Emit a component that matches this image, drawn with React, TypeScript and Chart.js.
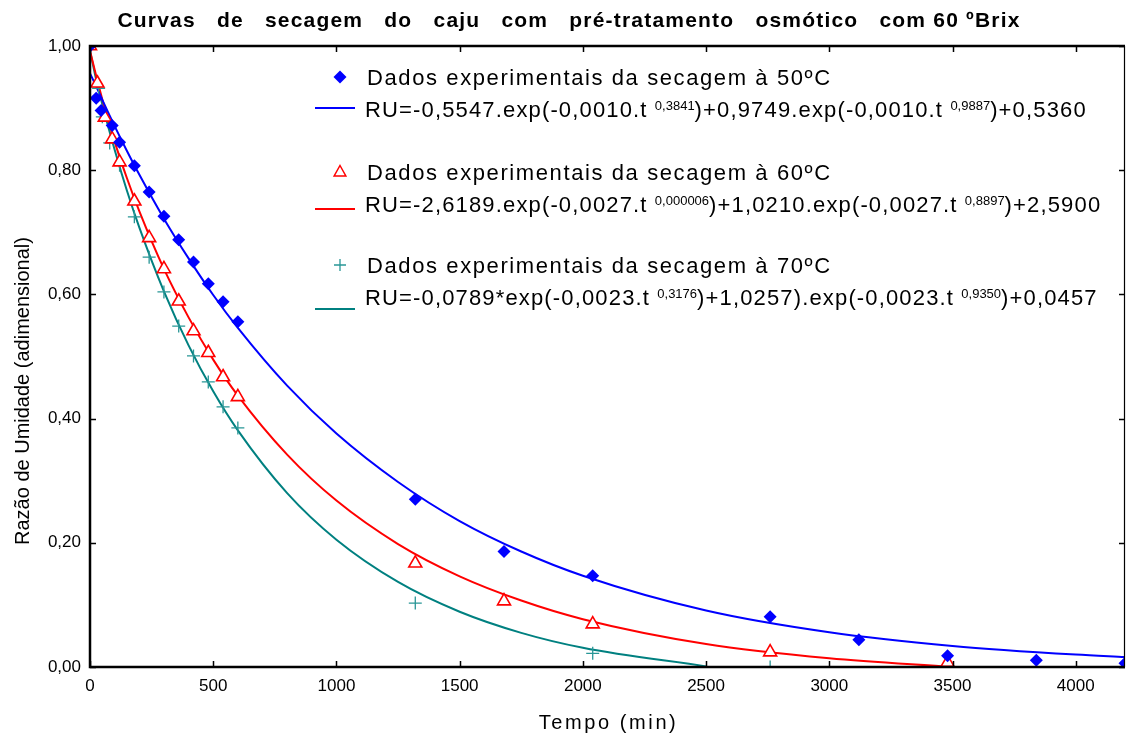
import React, { useEffect, useRef } from 'react';
import { Chart, registerables } from 'chart.js';

Chart.register(...registerables);

// ---------- data ----------
const xTickValues = [0, 500, 1000, 1500, 2000, 2500, 3000, 3500, 4000];
const yTickValues = [0, 0.2, 0.4, 0.6, 0.8, 1.0];

// experimental points
const t50 = [0, 25, 45, 90, 120, 180, 240, 300, 360, 420, 480, 540, 600, 1320, 1680, 2040, 2760, 3120, 3480, 3840, 4200];
const ru50 = [1.0, 0.916, 0.896, 0.872, 0.845, 0.807, 0.765, 0.726, 0.688, 0.652, 0.617, 0.588, 0.556, 0.270, 0.186, 0.147, 0.081, 0.044, 0.018, 0.011, 0.006];
const t60 = [0, 30, 60, 90, 120, 180, 240, 300, 360, 420, 480, 540, 600, 1320, 1680, 2040, 2760, 3480];
const ru60 = [1.0, 0.94, 0.885, 0.85, 0.813, 0.75, 0.691, 0.641, 0.589, 0.541, 0.506, 0.467, 0.435, 0.167, 0.106, 0.069, 0.024, 0.007];
const t70 = [0, 35, 50, 80, 120, 180, 240, 300, 360, 420, 480, 540, 600, 1320, 2040, 2760];
const ru70 = [1.0, 0.932, 0.886, 0.844, 0.808, 0.725, 0.66, 0.604, 0.549, 0.501, 0.459, 0.419, 0.385, 0.103, 0.022, 0.0];

// fitted curves
const fit50T = [0, 25, 50, 100, 150, 200, 300, 400, 500, 600, 800, 1000, 1250, 1500, 1750, 2000, 2500, 3000, 3500, 4000, 4200];
const fit50 = [0.956, 0.935, 0.913, 0.871, 0.831, 0.793, 0.722, 0.658, 0.599, 0.546, 0.453, 0.376, 0.298, 0.235, 0.186, 0.147, 0.091, 0.056, 0.034, 0.020, 0.016];
const fit60T = [0, 25, 50, 100, 150, 200, 300, 400, 500, 600, 800, 1000, 1250, 1500, 1750, 2000, 2500, 3000, 3500];
const fit60 = [0.992, 0.952, 0.914, 0.846, 0.787, 0.734, 0.641, 0.563, 0.495, 0.437, 0.342, 0.268, 0.198, 0.146, 0.107, 0.077, 0.037, 0.014, 0.0];
const fit70T = [0, 25, 50, 100, 150, 200, 300, 400, 500, 600, 800, 1000, 1250, 1500, 1750, 2000, 2500];
const fit70 = [0.993, 0.946, 0.906, 0.833, 0.767, 0.708, 0.605, 0.518, 0.444, 0.381, 0.280, 0.205, 0.137, 0.089, 0.055, 0.031, 0.001];

const BLUE = 'rgb(0,0,255)';
const RED = 'rgb(255,0,0)';
const TEAL = 'rgb(0,128,128)';
const TEAL_PT = 'rgb(40,150,150)';

const titleText = 'Curvas   de   secagem   do   caju   com   pré-tratamento   osmótico   com 60 ºBrix';
const xTitle = 'Tempo (min)';
const yTitle = 'Razão de Umidade (adimensional)';
const legendLabels = [
  'Dados experimentais da secagem à 50ºC',
  'Dados experimentais da secagem à 60ºC',
  'Dados experimentais da secagem à 70ºC',
];
const eqParts: [string, string, string, string, string][] = [
  ['RU=-0,5547.exp(-0,0010.t ', '0,3841', ')+0,9749.exp(-0,0010.t ', '0,9887', ')+0,5360'],
  ['RU=-2,6189.exp(-0,0027.t ', '0,000006', ')+1,0210.exp(-0,0027.t ', '0,8897', ')+2,5900'],
  ['RU=-0,0789*exp(-0,0023.t ', '0,3176', ')+1,0257).exp(-0,0023.t ', '0,9350', ')+0,0457'],
];

const FONT = '"Liberation Sans", Arial, Helvetica, sans-serif';

const toXY = (ts: number[], vs: number[]) => ts.map((t, i) => ({ x: t, y: vs[i] }));

function drawMarker(ctx: CanvasRenderingContext2D, kind: number, x: number, y: number) {
  ctx.save();
  if (kind === 0) {
    const r = 6.5;
    ctx.fillStyle = BLUE;
    ctx.beginPath();
    ctx.moveTo(x, y - r);
    ctx.lineTo(x + r, y);
    ctx.lineTo(x, y + r);
    ctx.lineTo(x - r, y);
    ctx.closePath();
    ctx.fill();
  } else if (kind === 1) {
    const r = 6.5;
    ctx.strokeStyle = RED;
    ctx.lineWidth = 1.5;
    ctx.beginPath();
    ctx.moveTo(x, y - r);
    ctx.lineTo(x + r * 0.9, y + r * 0.6);
    ctx.lineTo(x - r * 0.9, y + r * 0.6);
    ctx.closePath();
    ctx.stroke();
  } else {
    const r = 6;
    ctx.strokeStyle = TEAL_PT;
    ctx.lineWidth = 1.3;
    ctx.beginPath();
    ctx.moveTo(x - r, y);
    ctx.lineTo(x + r, y);
    ctx.moveTo(x, y - r);
    ctx.lineTo(x, y + r);
    ctx.stroke();
  }
  ctx.restore();
}

const decorPlugin = {
  id: 'decor',
  afterDraw(chart: any) {
    const ctx: CanvasRenderingContext2D = chart.ctx;
    const a = chart.chartArea;
    const xs = chart.scales.x;
    const ys = chart.scales.y;
    ctx.save();

    // inward tick marks
    ctx.strokeStyle = '#000';
    ctx.lineWidth = 1.5;
    ctx.beginPath();
    xTickValues.forEach((v) => {
      const px = Math.round(xs.getPixelForValue(v)) + 0.5;
      ctx.moveTo(px, a.bottom);
      ctx.lineTo(px, a.bottom - 6);
      ctx.moveTo(px, a.top);
      ctx.lineTo(px, a.top + 6);
    });
    yTickValues.forEach((v) => {
      const py = Math.round(ys.getPixelForValue(v)) + 0.5;
      ctx.moveTo(a.left, py);
      ctx.lineTo(a.left + 6, py);
      ctx.moveTo(a.right, py);
      ctx.lineTo(a.right - 6, py);
    });
    ctx.stroke();

    // frame
    ctx.lineWidth = 2.5;
    ctx.beginPath();
    ctx.moveTo(a.right, a.top);
    ctx.lineTo(a.left, a.top);
    ctx.lineTo(a.left, a.bottom);
    ctx.lineTo(a.right, a.bottom);
    ctx.stroke();
    ctx.lineWidth = 1.2;
    ctx.beginPath();
    ctx.moveTo(a.right - 0.5, a.top);
    ctx.lineTo(a.right - 0.5, a.bottom);
    ctx.stroke();

    ctx.fillStyle = '#000';
    // title
    ctx.font = `bold 21px ${FONT}`;
    (ctx as any).letterSpacing = '1.2px';
    ctx.textAlign = 'center';
    ctx.textBaseline = 'alphabetic';
    ctx.fillText(titleText, 569, 27);

    // axis titles
    ctx.font = `20px ${FONT}`;
    (ctx as any).letterSpacing = '2.6px';
    ctx.fillText(xTitle, (a.left + a.right) / 2 + 1, 729);
    (ctx as any).letterSpacing = '0px';
    ctx.save();
    ctx.translate(29, 391);
    ctx.rotate(-Math.PI / 2);
    ctx.fillText(yTitle, 0, 0);
    ctx.restore();

    // legend
    ctx.textAlign = 'left';
    const labelBase = [85, 180, 273];
    const eqBase = [117, 212, 305];
    const lineY = [108, 209, 309];
    const colors = [BLUE, RED, TEAL];
    for (let i = 0; i < 3; i++) {
      drawMarker(ctx, i, 340, labelBase[i] - 8);
      ctx.fillStyle = '#000';
      ctx.font = `22px ${FONT}`;
      (ctx as any).letterSpacing = '1.6px';
      ctx.fillText(legendLabels[i], 367, labelBase[i]);

      ctx.strokeStyle = colors[i];
      ctx.lineWidth = 2;
      ctx.beginPath();
      ctx.moveTo(315, lineY[i]);
      ctx.lineTo(355, lineY[i]);
      ctx.stroke();

      let x = 365;
      const parts = eqParts[i];
      parts.forEach((p, k) => {
        const sup = k === 1 || k === 3;
        if (sup) {
          ctx.font = `13px ${FONT}`;
          (ctx as any).letterSpacing = '0px';
          ctx.fillText(p, x, eqBase[i] - 7);
        } else {
          ctx.font = `22px ${FONT}`;
          (ctx as any).letterSpacing = '1.15px';
          ctx.fillText(p, x, eqBase[i]);
        }
        x += ctx.measureText(p).width;
      });
    }
    (ctx as any).letterSpacing = '0px';
    ctx.restore();
  },
};

export default function App() {
  const ref = useRef<HTMLCanvasElement | null>(null);

  useEffect(() => {
    document.body.style.margin = '0';
    const canvas = ref.current;
    if (!canvas) return;
    const tickFont = { family: FONT, size: 17 };
    const chart = new Chart(canvas, {
      type: 'scatter',
      data: {
        datasets: [
          {
            label: '50',
            data: toXY(t50, ru50),
            pointStyle: 'rectRot',
            pointRadius: 6.5,
            pointBackgroundColor: BLUE,
            pointBorderColor: BLUE,
            pointBorderWidth: 0,
            showLine: false,
            order: 0,
          } as any,
          {
            label: '60',
            data: toXY(t60, ru60),
            pointStyle: 'triangle',
            pointRadius: 7.5,
            pointBackgroundColor: 'rgba(255,255,255,1)',
            pointBorderColor: RED,
            pointBorderWidth: 1.6,
            showLine: false,
            order: 0,
          } as any,
          {
            label: '70',
            data: toXY(t70, ru70),
            pointStyle: 'cross',
            pointRadius: 6.5,
            pointBorderColor: TEAL_PT,
            pointBorderWidth: 1.3,
            showLine: false,
            order: 0,
          } as any,
          {
            label: 'fit50',
            data: toXY(fit50T, fit50),
            showLine: true,
            borderColor: BLUE,
            borderWidth: 2,
            pointRadius: 0,
            cubicInterpolationMode: 'monotone',
            order: 1,
          } as any,
          {
            label: 'fit60',
            data: toXY(fit60T, fit60),
            showLine: true,
            borderColor: RED,
            borderWidth: 2,
            pointRadius: 0,
            cubicInterpolationMode: 'monotone',
            order: 1,
          } as any,
          {
            label: 'fit70',
            data: toXY(fit70T, fit70),
            showLine: true,
            borderColor: TEAL,
            borderWidth: 2,
            pointRadius: 0,
            cubicInterpolationMode: 'monotone',
            order: 1,
          } as any,
        ],
      },
      options: {
        animation: false,
        responsive: false,
        devicePixelRatio: 1,
        layout: { autoPadding: false, padding: { top: 46, right: 1, left: 0, bottom: 0 } },
        plugins: {
          legend: { display: false },
          tooltip: { enabled: false },
          title: { display: false },
        },
        scales: {
          x: {
            type: 'linear',
            min: 0,
            max: 4200,
            grid: { display: false, drawTicks: false },
            border: { display: false },
            ticks: {
              font: tickFont,
              color: '#000',
              padding: 9,
              maxRotation: 0,
              callback: (v: any) => String(v),
            },
            afterBuildTicks: (s: any) => {
              s.ticks = xTickValues.map((v) => ({ value: v }));
            },
            afterFit: (s: any) => {
              s.height = 75;
            },
          },
          y: {
            type: 'linear',
            min: 0,
            max: 1,
            grid: { display: false, drawTicks: false },
            border: { display: false },
            ticks: {
              font: tickFont,
              color: '#000',
              padding: 9,
              callback: (v: any) => Number(v).toFixed(2).replace('.', ','),
            },
            afterBuildTicks: (s: any) => {
              s.ticks = yTickValues.map((v) => ({ value: v }));
            },
            afterFit: (s: any) => {
              s.width = 90;
            },
          },
        },
      } as any,
      plugins: [decorPlugin],
    });
    return () => chart.destroy();
  }, []);

  return (
    <div style={{ width: 1126, height: 742, background: '#fff' }}>
      <canvas ref={ref} width={1126} height={742} style={{ width: 1126, height: 742, display: 'block' }} />
    </div>
  );
}
